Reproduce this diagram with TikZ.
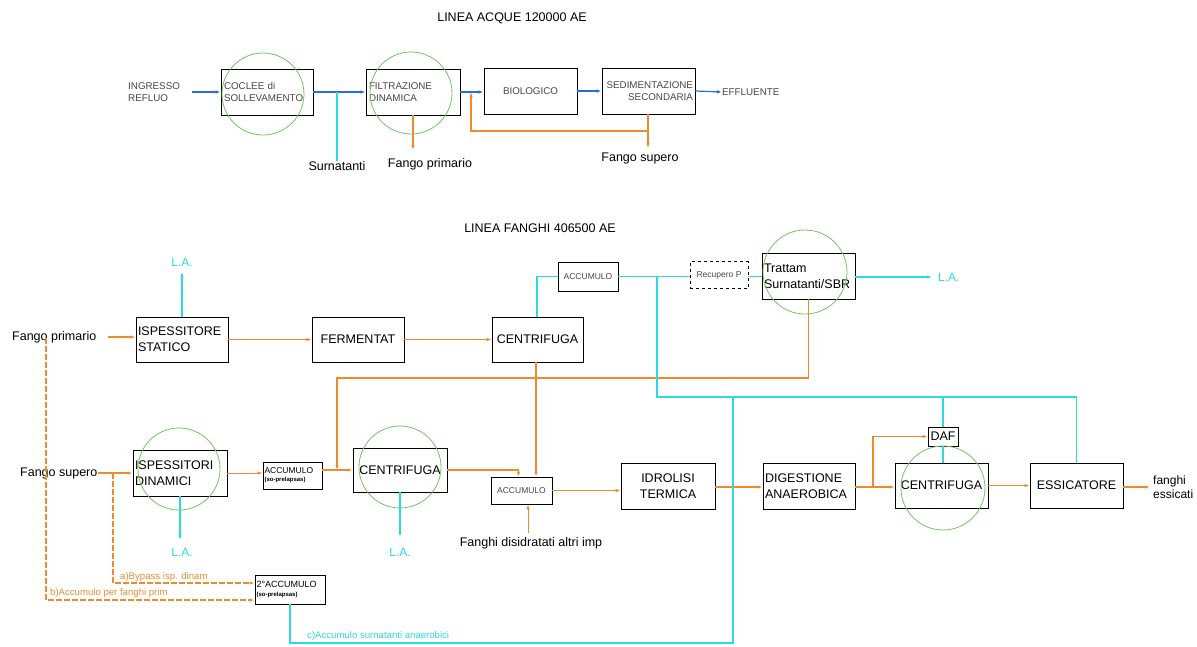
\documentclass[tikz,border=0pt]{standalone}
\usepackage{fontspec}
\setmainfont{Liberation Sans}
\usetikzlibrary{arrows.meta}
\definecolor{flowblue}{RGB}{40,110,215}
\definecolor{flowcyan}{RGB}{45,218,226}
\definecolor{floworange}{RGB}{238,140,45}
\definecolor{ringgreen}{RGB}{115,195,95}
\definecolor{greytext}{RGB}{70,70,70}
\newcommand{\fsz}[2]{\fontsize{#1}{#2}\selectfont}
\begin{document}
\begin{tikzpicture}[x=1pt,y=-1pt,
  box/.style={draw=black, line width=0.9pt, inner sep=2pt},
  wd/.style={minimum width=#1pt},
  ht/.style={minimum height=#1pt},
  ltxt/.style={text width=#1pt, align=left},
  small/.style={font=\fsz{9.8}{11.5}, text=greytext},
  big/.style={font=\fsz{12.5}{16}},
  lbl/.style={inner sep=0pt, font=\fsz{12.5}{14}},
  la/.style={inner sep=0pt, font=\fsz{12}{14}, text=flowcyan},
  ring/.style={draw=ringgreen, line width=0.8pt, circle, minimum size=#1pt, inner sep=0pt},
  tip/.style={-{Latex[length=5pt,width=3.6pt]}},
  blu/.style={draw=flowblue, line width=1.2pt},
  cya/.style={draw=flowcyan, line width=1.2pt},
  ora/.style={draw=floworange, line width=1.2pt},
  thinora/.style={draw=floworange, line width=0.7pt},
  dsh/.style={draw=floworange, line width=1.3pt, dash pattern=on 6pt off 2pt},
  dlbl/.style={inner sep=0pt, font=\fsz{9.6}{11}, text=floworange},
]
\useasboundingbox (0,0) rectangle (1197,646);

% ---------- water line ----------
\node[lbl, font=\fsz{12.5}{14}] (t1) at (512,18) {LINEA ACQUE 120000 AE};

\node[small, inner sep=0pt, anchor=west, align=left] (in) at (128,92) {INGRESSO\\REFLUO};
\node[box, small, wd=92, ht=46, ltxt=86] (cocl) at (267,92) {COCLEE di\\SOLLEVAMENTO};
\node[box, small, wd=94, ht=46, ltxt=88] (filt) at (413,92) {FILTRAZIONE\\DINAMICA};
\node[box, small, wd=93, ht=46, align=center] (biol) at (530.5,91) {BIOLOGICO};
\node[box, small, wd=93, ht=46, text width=89pt, align=right, inner sep=1pt] (sedi) at (648.5,91) {SEDIMENTAZIONE\\SECONDARIA};
\node[small, inner sep=0pt, anchor=west] (effl) at (722,92) {EFFLUENTE};
\node[lbl] (surn) at (337,166) {Surnatanti};
\node[lbl] (fprim) at (430,164) {Fango primario};
\node[lbl] (fsup) at (640,158) {Fango supero};

\node[ring=82] (rg1) at (263,94) {};
\node[ring=82] (rg2) at (411,93) {};

\coordinate (j1) at (337,92);
\coordinate (fpend) at (413,150);
\coordinate (fsend) at (648,148);
\coordinate (rc1) at (648,131);
\coordinate (rc2) at (471,131);
\coordinate (rc3) at (471,92);

\draw[blu,tip,shorten <=12pt] (in.east) -- (cocl.west);
\draw[blu,tip] (cocl.east) -- (filt.west);
\draw[blu,tip] (filt.east) -- (biol.west |- filt.east);
\draw[blu,tip] (biol.east) -- (sedi.west);
\draw[blu,tip] (sedi.east) -- (effl.west);
\draw[cya] (j1) -- (surn.north);
\draw[ora,tip] (filt.south) -- (fpend);
\draw[ora,tip] (sedi.south -| fsend) -- (fsend);
\draw[ora,tip] (rc1) -- (rc2) -- (rc3);

% ---------- sludge line ----------
\node[lbl, font=\fsz{12.5}{14}] (t2) at (540,228) {LINEA FANGHI 406500 AE};

\node[lbl, anchor=west] (fpin) at (12,337) {Fango primario};
\node[box, big, wd=92, ht=45, ltxt=88] (isps) at (182,339.5) {ISPESSITORE\\STATICO};
\node[box, big, wd=92, ht=45, align=center] (ferm) at (358,339.5) {FERMENTAT};
\node[box, big, wd=91, ht=45, align=center, inner sep=1pt] (cen1) at (537.5,339.5) {CENTRIFUGA};
\node[box, wd=60, ht=29, font=\fsz{8.5}{10}, text=greytext, inner sep=1pt] (acc1) at (588,276.5) {ACCUMULO};
\node[box, dashed, wd=58, ht=27, font=\fsz{8.5}{10}, text=greytext, inner sep=1pt] (recp) at (719,275) {Recupero P};
\node[box, big, wd=93, ht=46, ltxt=89, inner sep=2pt] (trat) at (808.5,276) {Trattam\\Surnatanti/SBR};
\node[la] (la1) at (182,262) {L.A.};
\node[la, anchor=west] (la2) at (938,277) {L.A.};

\node[lbl, anchor=west] (fsin) at (20,473) {Fango supero};
\node[box, big, wd=94, ht=46, ltxt=90] (isd) at (180,473) {ISPESSITORI\\DINAMICI};
\node[box, wd=59, ht=27, inner sep=1pt, align=left, text width=56pt, font=\fsz{8.5}{9}] (accs) at (292.5,475.5) {ACCUMULO\\[-1pt]{\fsz{6}{7}\bfseries (so-prelapsas)}};
\node[box, big, wd=94, ht=44, align=center, inner sep=1pt] (cen2) at (400,470) {CENTRIFUGA};
\node[box, wd=61, ht=27, font=\fsz{8.5}{10}, text=greytext, inner sep=1pt] (acc3) at (521.5,490.5) {ACCUMULO};
\node[box, big, wd=94, ht=46, align=center] (idr) at (668,486) {IDROLISI\\TERMICA};
\node[box, big, wd=92, ht=46, ltxt=88] (dig) at (809,486) {DIGESTIONE\\ANAEROBICA};
\node[box, big, wd=93, ht=45, align=center, inner sep=1pt] (cen3) at (941.5,485.5) {CENTRIFUGA};
\node[box, big, wd=30, ht=19, inner sep=1pt] (daf) at (943,436.5) {DAF};
\node[box, big, wd=93, ht=45, align=center, inner sep=1pt] (ess) at (1076.5,485.5) {ESSICATORE};
\node[lbl, anchor=west, align=left, font=\fsz{12}{14}] (fess) at (1153,487) {fanghi\\essicati};
\node[lbl] (fdis) at (531,543) {Fanghi disidratati altri imp};
\node[la] (la3) at (182,552) {L.A.};
\node[la] (la4) at (400,552) {L.A.};
\node[box, wd=70, ht=29, inner sep=1pt, align=left, text width=67pt, font=\fsz{9}{10}] (acc2) at (290,589.5) {2°ACCUMULO\\[-1pt]{\fsz{6}{7}\bfseries (so-prelapsas)}};

\node[dlbl, anchor=west] (da) at (120,577) {a)Bypass isp. dinam};
\node[dlbl, anchor=west] (db) at (50,593) {b)Accumulo per fanghi prim};
\node[dlbl, anchor=west, text=flowcyan] (dc) at (307,636) {c)Accumulo surnatanti anaerobici};

% rings
\node[ring=84] (rg3) at (805,272) {};
\node[ring=82] (rg4) at (179,469) {};
\node[ring=82] (rg5) at (400,467) {};
\node[ring=84] (rg6) at (943,488) {};

% junctions and bends
\coordinate (j2) at (657,276.5);
\coordinate (b1) at (657,397);
\coordinate (b2) at (733,397);
\coordinate (b3) at (943,397);
\coordinate (b4) at (1076.5,397);
\coordinate (b5) at (733,643);
\coordinate (o1) at (808.5,378);
\coordinate (o2) at (337,378);
\coordinate (o3) at (337,470);
\coordinate (j3) at (873,487);
\coordinate (d1) at (46,338);
\coordinate (d2) at (46,600);
\coordinate (d3) at (113,473);
\coordinate (d4) at (113,583);
\coordinate (fdtop) at (528,533);
\coordinate (laup) at (182,272);
\coordinate (lad1) at (180,540);
\coordinate (lad2) at (400,537);
\coordinate (laR) at (932,277);
\coordinate (fend) at (1150,487);

% orange sludge flows
\draw[ora,tip,shorten <=12pt] (fpin.east) -- (isps.west |- fpin.east);
\draw[ora,tip] (isps.east) -- (ferm.west);
\draw[ora,tip] (ferm.east) -- (cen1.west);
\draw[ora,tip] (fsin.east) -- (isd.west);
\draw[thinora,tip] (isd.east) -- (accs.west |- isd.east);
\draw[ora,tip] (accs.east |- cen2.west) -- (cen2.west);
\draw[ora,tip] (trat.south) -- (o1) -- (o2) -- (o3);
\draw[ora,tip] (cen1.south -| 536,0) -- (acc3.north -| 536,0);
\draw[ora,tip] (cen2.east) -| ([xshift=-3pt]acc3.north);
\draw[thinora,tip] (fdtop) -- (fdtop |- acc3.south);
\draw[ora,tip] (acc3.east) -- (acc3.east -| idr.west);
\draw[ora,tip] (idr.east |- j3) -- (dig.west |- j3);
\draw[ora,tip] (dig.east |- j3) -- (cen3.west |- j3);
\draw[ora,tip] (j3) |- (daf.west);
\draw[ora,tip] (cen3.east) -- (ess.west);
\draw[ora,tip] (ess.east |- fend) -- (fend);

% dashed bypasses
\draw[dsh,tip] (d1) -- (d2) -- (d2 -| acc2.west);
\draw[dsh,tip] (d3) -- (d4) -- (d4 -| acc2.west);

% cyan liquid returns
\draw[cya,tip] (isps.north) -- (laup);
\draw[cya,tip] (isd.south) -- (lad1);
\draw[cya,tip] (cen2.south) -- (lad2);
\draw[cya] (cen1.north -| 537,0) |- (acc1.west);
\draw[cya] (acc1.east) -- (acc1.east -| recp.west);
\draw[cya] (recp.east |- acc1.east) -- (trat.west |- acc1.east);
\draw[cya,tip] (trat.east |- laR) -- (laR);
\draw[cya] (j2) -- (b1) -- (b4) -- (ess.north);
\draw[cya] (b3) -- (daf.north);
\draw[cya] (daf.south) -- (cen3.north -| daf.south);
\draw[cya] (b2) -- (b5) -| (acc2.south);
\end{tikzpicture}
\end{document}
